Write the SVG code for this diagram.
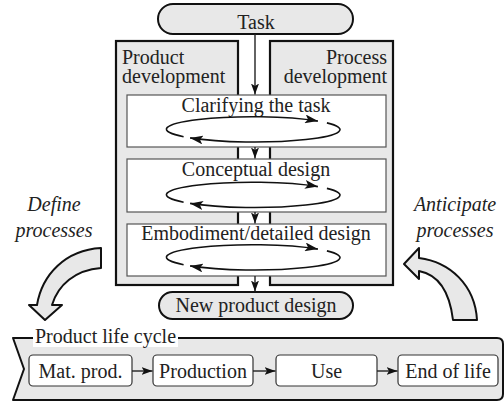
<svg xmlns="http://www.w3.org/2000/svg" width="504" height="403" viewBox="0 0 504 403">
<style>
text{font-family:"Liberation Serif","Times New Roman",serif;font-size:20px;fill:#222}
.it{font-style:italic}
.mid{text-anchor:middle}
.end{text-anchor:end}
.pill{fill:#e8e8e8;stroke:#111;stroke-width:2}
.panel{fill:#e8e8e8;stroke:#111;stroke-width:2.2}
.box{fill:#fff;stroke:#555;stroke-width:1.2}
.lc{fill:#fff;stroke:#333;stroke-width:1.2}
.big{fill:#e8e8e8;stroke:#111;stroke-width:2;stroke-linejoin:round}
.ln{fill:none;stroke:#222;stroke-width:1.4}
.loop{fill:none;stroke:#111;stroke-width:1.6}
</style>
<defs>
<marker id="ah" markerUnits="userSpaceOnUse" markerWidth="12" markerHeight="8" refX="11" refY="4" orient="auto" viewBox="0 0 12 8">
<path d="M0,0 L11,4 L0,8 L2.5,4 Z" fill="#111"/>
</marker>
<marker id="ah2" markerUnits="userSpaceOnUse" markerWidth="14" markerHeight="9" refX="13" refY="4.5" orient="auto" viewBox="0 0 14 9">
<path d="M0,0 L13,4.5 L0,9 L3,4.5 Z" fill="#111"/>
</marker>
</defs>

<g id="product-development">
<rect class="panel" x="116" y="41" width="122" height="244"/>
<text x="122" y="64">Product<tspan x="122" dy="19">development</tspan></text>
</g>
<g id="process-development">
<rect class="panel" x="270" y="41" width="123" height="244"/>
<text class="end" x="387" y="64">Process<tspan x="387" dy="19">development</tspan></text>
</g>

<g id="task">
<rect class="pill" x="158" y="4" width="195" height="30" rx="15"/>
<text class="mid" x="256" y="29">Task</text>
</g>

<g id="clarifying">
<rect class="box" x="127" y="95" width="259" height="52"/>
<text class="mid" x="256" y="112">Clarifying the task</text>
<path class="loop" d="M183.6,136.7 A86,12.5 0 0 1 317.9,121.1" marker-end="url(#ah2)"/>
<path class="loop" d="M326.9,122.9 A86,12.5 0 0 1 190.1,137.9" marker-end="url(#ah2)"/>
</g>

<g id="conceptual">
<rect class="box" x="127" y="159" width="259" height="53"/>
<text class="mid" x="256" y="176">Conceptual design</text>
<path class="loop" d="M183.6,202.2 A86,12.5 0 0 1 317.9,186.6" marker-end="url(#ah2)"/>
<path class="loop" d="M326.9,188.4 A86,12.5 0 0 1 190.1,203.4" marker-end="url(#ah2)"/>
</g>

<g id="embodiment">
<rect class="box" x="127" y="224" width="259" height="52"/>
<text class="mid" x="256" y="240">Embodiment/detailed design</text>
<path class="loop" d="M183.6,264.7 A86,12.5 0 0 1 317.9,249.1" marker-end="url(#ah2)"/>
<path class="loop" d="M326.9,250.9 A86,12.5 0 0 1 190.1,265.9" marker-end="url(#ah2)"/>
</g>

<g id="new-product-design">
<rect class="pill" x="159" y="292" width="194" height="27" rx="13.5"/>
<text class="mid" x="256" y="312">New product design</text>
</g>

<g id="define-processes">
<text class="it mid" x="54" y="211">Define<tspan x="54" dy="26">processes</tspan></text>
<path class="big" d="M45,320 L62,305 L52,305 C58,285 75,270 101,268 L101,248 C65,250 42,275 37,305 L29,305 Z"/>
</g>

<g id="anticipate-processes">
<text class="it mid" x="455" y="211">Anticipate<tspan x="455" dy="26">processes</tspan></text>
<path class="big" d="M404,264 L419,248 L419,258 C450,262 475,285 477,320 L453,320 C450,295 440,275 419,271 L419,279 Z"/>
</g>

<g id="product-life-cycle">
<path class="big" d="M13,338 H497 Q503,338 503,344 V394 Q503,400 497,400 H13 L24,369 Z"/>
<rect x="33" y="329" width="145" height="18" fill="#fff"/>
<text x="35" y="343">Product life cycle</text>
</g>
<g id="mat-prod">
<rect class="lc" x="29" y="355" width="103" height="31" rx="4"/>
<text class="mid" x="80.5" y="378">Mat. prod.</text>
</g>
<g id="production">
<rect class="lc" x="153" y="355" width="100" height="31" rx="4"/>
<text class="mid" x="203" y="378">Production</text>
</g>
<g id="use">
<rect class="lc" x="276" y="355" width="101" height="31" rx="4"/>
<text class="mid" x="326.5" y="378">Use</text>
</g>
<g id="end-of-life">
<rect class="lc" x="398" y="355" width="100" height="31" rx="4"/>
<text class="mid" x="448" y="378">End of life</text>
</g>

<g id="connectors">
<line class="ln" x1="255" y1="34" x2="255" y2="94.5" marker-end="url(#ah)"/>
<line class="ln" x1="255" y1="147" x2="255" y2="158.5" marker-end="url(#ah)"/>
<line class="ln" x1="255" y1="212" x2="255" y2="223.5" marker-end="url(#ah)"/>
<line class="ln" x1="255" y1="276" x2="255" y2="291.5" marker-end="url(#ah)"/>
<line class="ln" x1="132" y1="371" x2="152.5" y2="371" marker-end="url(#ah)"/>
<line class="ln" x1="253" y1="371" x2="275.5" y2="371" marker-end="url(#ah)"/>
<line class="ln" x1="377" y1="371" x2="397.5" y2="371" marker-end="url(#ah)"/>
</g>
</svg>
